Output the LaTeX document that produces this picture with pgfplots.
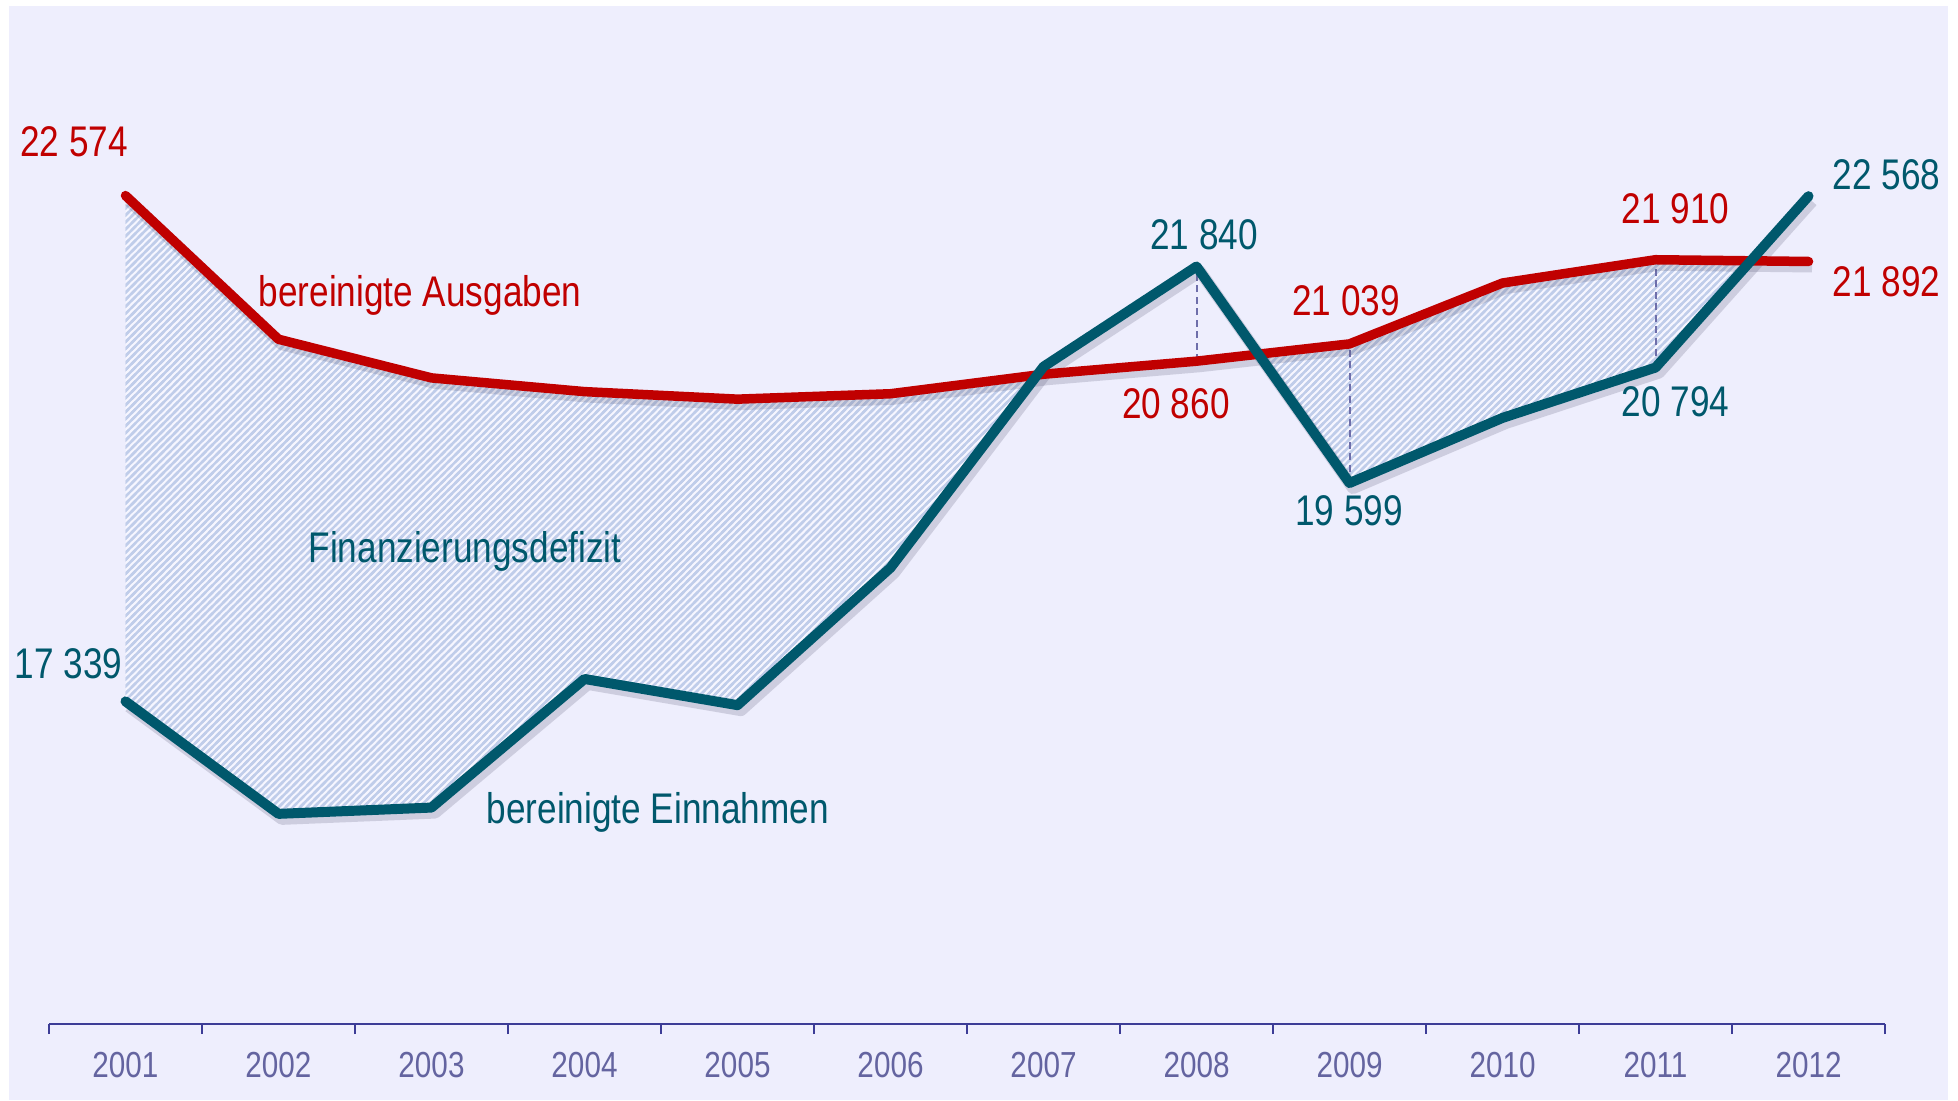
\documentclass[border=0pt]{standalone}
\usepackage{pgfplots}
\pgfplotsset{compat=1.18}
\usepgfplotslibrary{fillbetween}
\usetikzlibrary{patterns}
\usepackage{fontspec}
\setmainfont{Liberation Sans}[FakeStretch=0.82]
\definecolor{bg}{RGB}{238,238,253}
\definecolor{redl}{RGB}{192,0,0}
\definecolor{teal}{RGB}{0,88,108}
\definecolor{tickc}{RGB}{100,100,160}
\definecolor{axc}{RGB}{60,60,150}
\definecolor{dashc}{RGB}{110,110,170}
\definecolor{hatch}{RGB}{192,205,234}
\definecolor{hatchbg}{RGB}{246,246,255}
\definecolor{shadowc}{RGB}{90,90,120}
\pgfdeclarepatternformonly{myhatch}{\pgfqpoint{-1pt}{-1pt}}{\pgfqpoint{3pt}{3pt}}{\pgfqpoint{2pt}{2pt}}{%
  \pgfsetlinewidth{0.7pt}%
  \pgfpathmoveto{\pgfqpoint{-0.6pt}{-0.6pt}}%
  \pgfpathlineto{\pgfqpoint{2.6pt}{2.6pt}}%
  \pgfusepath{stroke}}
\begin{document}
\begin{tikzpicture}
\begin{axis}[
  set layers,
  at={(4.9mm,7.6mm)}, anchor=south west,
  scale only axis, width=183.6mm, height=101.45mm,
  xmin=-0.5, xmax=11.5, ymin=14000, ymax=24500,
  axis lines*=left,
  x axis line style={draw=axc, line width=0.25mm},
  y axis line style={draw=none},
  ytick=\empty,
  xtick={0,...,11},
  xticklabels={2001,2002,2003,2004,2005,2006,2007,2008,2009,2010,2011,2012},
  major tick length=0pt,
  minor xtick={-0.5,0.5,...,11.5},
  minor tick length=1mm,
  tick align=outside,
  minor x tick style={draw=axc, line width=0.2mm},
  xticklabel style={font=\fontsize{10.3}{12}\selectfont, text=tickc, yshift=-1.6mm},
  clip=false,
]
\begin{pgfonlayer}{axis background}
\fill[white] (axis cs:-0.8203,13213.4) rectangle (axis cs:11.9771,24598.3);
\fill[bg] (axis cs:-0.7614,13213.4) rectangle (axis cs:11.9118,24536.2);
\end{pgfonlayer}
\addplot[name path=A, draw=none, forget plot] coordinates {
(0,22574) (1,21087) (2,20687) (3,20545) (4,20467) (5,20523) (6,20725) (7,20860) (8,21039) (9,21669) (10,21910) (11,21892)};
\addplot[name path=B, draw=none, forget plot] coordinates {
(0,17339) (1,16175) (2,16240) (3,17571) (4,17300) (5,18722) (6,20803) (7,21840) (8,19599) (9,20273) (10,20794) (11,22568)};
\addplot[draw=none, forget plot] fill between[of=A and B, split,
  every segment no 0/.style={preaction={fill=hatchbg}, pattern=myhatch, pattern color=hatch},
  every segment no 1/.style={fill=none},
  every segment no 2/.style={preaction={fill=hatchbg}, pattern=myhatch, pattern color=hatch},
  every segment no 3/.style={fill=none}];
% dashed connectors
\addplot[dashc, line width=0.2mm, dash pattern=on 0.7mm off 0.45mm, forget plot] coordinates {(7,20860) (7,21840)};
\addplot[dashc, line width=0.2mm, dash pattern=on 0.7mm off 0.45mm, forget plot] coordinates {(8,19599) (8,21039)};
\addplot[dashc, line width=0.2mm, dash pattern=on 0.7mm off 0.45mm, forget plot] coordinates {(10,20794) (10,21910)};
% shadows
\addplot[shadowc, opacity=0.22, line width=1.2mm, xshift=0.35mm, yshift=-0.5mm, line join=round, forget plot] coordinates {
(0,22574) (1,21087) (2,20687) (3,20545) (4,20467) (5,20523) (6,20725) (7,20860) (8,21039) (9,21669) (10,21910) (11,21892)};
\addplot[shadowc, opacity=0.22, line width=1.2mm, xshift=0.35mm, yshift=-0.5mm, line join=round, forget plot] coordinates {
(0,17339) (1,16175) (2,16240) (3,17571) (4,17300) (5,18722) (6,20803) (7,21840) (8,19599) (9,20273) (10,20794) (11,22568)};
% lines
\addplot[redl, line width=0.95mm, line cap=round, line join=round] coordinates {
(0,22574) (1,21087) (2,20687) (3,20545) (4,20467) (5,20523) (6,20725) (7,20860) (8,21039) (9,21669) (10,21910) (11,21892)};
\addplot[teal, line width=1mm, line cap=round, line join=round] coordinates {
(0,17339) (1,16175) (2,16240) (3,17571) (4,17300) (5,18722) (6,20803) (7,21840) (8,19599) (9,20273) (10,20794) (11,22568)};
% labels
\begin{scope}[every node/.style={font=\fontsize{12.2}{14}\selectfont, inner sep=0pt, anchor=base}]
\node[text=redl] at (axis cs:-0.337,22976) {22 574};
\node[text=redl] at (axis cs:1.925,21431) {bereinigte Ausgaben};
\node[text=teal] at (axis cs:-0.371,17571) {17 339};
\node[text=teal] at (axis cs:2.219,18774) {Finanzierungsdefizit};
\node[text=teal, anchor=base west] at (axis cs:2.356,16077) {bereinigte Einnahmen};
\node[text=teal] at (axis cs:7.05,22011) {21 840};
\node[text=redl] at (axis cs:6.865,20269) {20 860};
\node[text=redl] at (axis cs:7.977,21331) {21 039};
\node[text=teal] at (axis cs:7.997,19164) {19 599};
\node[text=redl] at (axis cs:10.13,22287) {21 910};
\node[text=teal] at (axis cs:10.13,20285) {20 794};
\node[text=teal] at (axis cs:11.51,22632) {22 568};
\node[text=redl] at (axis cs:11.51,21527) {21 892};
\end{scope}
\end{axis}
\pgfresetboundingbox
\path[use as bounding box] (0,0) rectangle (195.8mm,110mm);
\end{tikzpicture}
\end{document}
